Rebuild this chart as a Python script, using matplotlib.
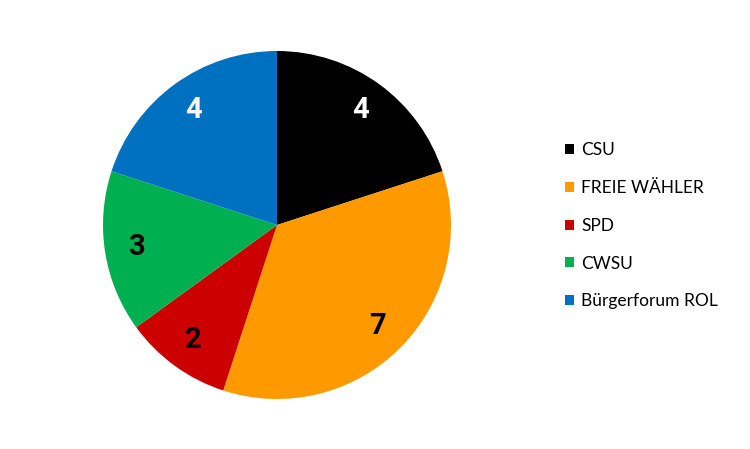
import matplotlib
matplotlib.use("Agg")
import matplotlib.pyplot as plt
from matplotlib.patches import Patch

parties = ["CSU", "FREIE WÄHLER", "SPD", "CWSU", "Bürgerforum ROL"]
seats = [4, 7, 2, 3, 4]
colors = ["#000000", "#FF9900", "#CC0000", "#00B050", "#0070C0"]
label_colors = ["white", "black", "black", "black", "white"]

plt.rcParams['font.family'] = ['Lato', 'DejaVu Sans']

fig = plt.figure(figsize=(7.5, 4.49), dpi=100)
cx, cy, r = 277, 225, 174
W, H = 750, 449
ax = fig.add_axes([(cx - r) / W, (H - cy - r) / H, 2 * r / W, 2 * r / H])
wedges, texts = ax.pie(seats, colors=colors, startangle=90, counterclock=False,
                       labels=[str(s) for s in seats], labeldistance=0.82,
                       wedgeprops=dict(linewidth=0))
for t, c in zip(texts, label_colors):
    t.set_color(c)
    t.set_fontsize(21)
    t.set_fontfamily(['Roboto', 'DejaVu Sans'])
    t.set_fontweight('bold')
    t.set_ha('center')
    t.set_va('center')
ax.set_xlim(-1, 1)
ax.set_ylim(-1, 1)
ax.set_aspect('equal')
ax.axis('off')

handles = [Patch(facecolor=c, edgecolor='none') for c in colors]
fig.legend(handles, parties, loc='center left', bbox_to_anchor=(565 / W, 0.497),
           frameon=False, fontsize=12.5, handlelength=0.5, handleheight=0.5,
           handletextpad=0.45, labelspacing=1.25, borderpad=0, borderaxespad=0)

fig.savefig("out.png", dpi=100)
